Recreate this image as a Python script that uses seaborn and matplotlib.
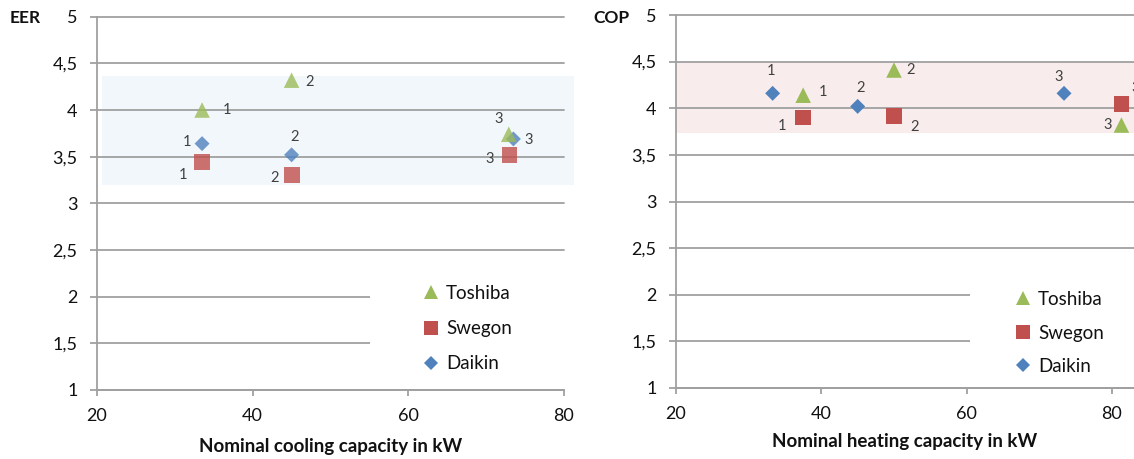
import matplotlib
matplotlib.use("Agg")
import matplotlib.pyplot as plt
from matplotlib.patches import Rectangle
from matplotlib.lines import Line2D
import seaborn as sns
import pandas as pd

sns.set_theme(style="white")
plt.rcParams['font.family'] = ['Lato', 'DejaVu Sans']

brands = ["Toshiba", "Swegon", "Daikin"]
unit_labels = ["1", "2", "3"]

# Cooling (EER)
cool_x_toshiba = [33.5, 45.0, 72.9]
cool_y_toshiba = [4.00, 4.32, 3.74]
cool_x_swegon = [33.5, 45.0, 73.0]
cool_y_swegon = [3.44, 3.30, 3.52]
cool_x_daikin = [33.5, 45.0, 73.5]
cool_y_daikin = [3.64, 3.52, 3.69]

# Heating (COP)
heat_x_toshiba = [37.5, 50.0, 81.3]
heat_y_toshiba = [4.14, 4.41, 3.82]
heat_x_swegon = [37.5, 50.0, 81.3]
heat_y_swegon = [3.90, 3.92, 4.05]
heat_x_daikin = [33.3, 45.0, 73.4]
heat_y_daikin = [4.16, 4.02, 4.16]

yticks = [1, 1.5, 2, 2.5, 3, 3.5, 4, 4.5, 5]
ytick_labels = ["1", "1,5", "2", "2,5", "3", "3,5", "4", "4,5", "5"]
xticks = [20, 40, 60, 80]
xtick_labels = ["20", "40", "60", "80"]

colors = {"Toshiba": "#9BBB59", "Swegon": "#C0504D", "Daikin": "#4F81BD"}
markers = {"Toshiba": "^", "Swegon": "s", "Daikin": "D"}
sizes = {"Toshiba": 125, "Swegon": 130, "Daikin": 58}

W, H = 1134, 459
fig = plt.figure(figsize=(W / 100, H / 100), dpi=100)

def px_axes(x0, x1, ytop, ybot):
    return fig.add_axes([x0 / W, 1 - ybot / H, (x1 - x0) / W, (ybot - ytop) / H])

ax1 = px_axes(97, 564, 16.7, 390)
ax2 = px_axes(676, 1134, 15, 388)

grid_c = "#A0A0A0"
text_c = "#404040"

def style_axis(ax, xmax):
    ax.set_xlim(20, xmax)
    ax.set_ylim(1, 5)
    ax.set_yticks(yticks)
    ax.set_yticklabels(ytick_labels)
    ax.set_xticks(xticks)
    ax.set_xticklabels(xtick_labels)
    ax.set_axisbelow(True)
    ax.yaxis.grid(True, color=grid_c, lw=1.3)
    ax.xaxis.grid(False)
    for s in ["top", "right"]:
        ax.spines[s].set_visible(False)
    for s in ["left", "bottom"]:
        ax.spines[s].set_color(grid_c)
        ax.spines[s].set_linewidth(1.3)
    ax.tick_params(axis="y", which="both", left=True, length=5, width=1.3,
                   color=grid_c, pad=9, labelsize=13, labelcolor="#111111")
    ax.tick_params(axis="x", which="both", bottom=True, length=4, width=1.3,
                   color=grid_c, pad=9, labelsize=13, labelcolor="#111111")
    ax.set_facecolor("none")
    for gl in ax.get_ygridlines():
        gl.set_clip_on(False)

style_axis(ax1, 80)
style_axis(ax2, 83.03)

# bands
ax1.add_patch(Rectangle((20.64, 3.196), 81.3 - 20.64, 4.365 - 3.196,
                        facecolor="#F2F7FB", edgecolor="none", zorder=0.3, clip_on=False))
ax2.add_patch(Rectangle((20.0, 3.735), 63.5, 4.5 - 3.735,
                        facecolor="#F8ECEC", edgecolor="none", zorder=0.3, clip_on=False))
# white legend boxes covering lower gridlines
ax1.add_patch(Rectangle((55.1, 1.12), 30, 1.17, facecolor="white",
                        edgecolor="none", zorder=0.7, clip_on=False))
ax2.add_patch(Rectangle((60.4, 1.12), 30, 1.17, facecolor="white",
                        edgecolor="none", zorder=0.7, clip_on=False))

cool = {"Toshiba": (cool_x_toshiba, cool_y_toshiba),
        "Swegon": (cool_x_swegon, cool_y_swegon),
        "Daikin": (cool_x_daikin, cool_y_daikin)}
heat = {"Toshiba": (heat_x_toshiba, heat_y_toshiba),
        "Swegon": (heat_x_swegon, heat_y_swegon),
        "Daikin": (heat_x_daikin, heat_y_daikin)}

cool_offsets = {"Toshiba": [(18, 0), (13, -1), (-7, 11)],
                "Swegon": [(-14, -9), (-12, -2), (-14, -3)],
                "Daikin": [(-11, 1), (2, 13), (11, -1)]}
heat_offsets = {"Toshiba": [(14, 2), (12, 0), (-10, 0)],
                "Swegon": [(-15, -6), (15, -8), (10, 11)],
                "Daikin": [(-1, 16), (2, 13), (-4, 12)]}

def draw(ax, data, offsets, alpha):
    for b in ["Daikin", "Swegon", "Toshiba"]:
        xs, ys = data[b]
        df = pd.DataFrame({"x": xs, "y": ys, "label": unit_labels})
        sns.scatterplot(data=df, x="x", y="y", ax=ax, marker=markers[b],
                        color=colors[b], s=sizes[b], alpha=alpha,
                        edgecolor="none", linewidth=0, legend=False,
                        zorder=3, clip_on=False)
        for (xv, yv, lab), off in zip(zip(xs, ys, unit_labels), offsets[b]):
            ax.annotate(lab, (xv, yv), xytext=off, textcoords="offset points",
                        ha="center", va="center", fontsize=10.5, color=text_c,
                        zorder=4, annotation_clip=False)

draw(ax1, cool, cool_offsets, 0.8)
draw(ax2, heat, heat_offsets, 1.0)

ax1.set_xlabel("Nominal cooling capacity in kW", fontsize=13.5, fontweight="bold",
               color="#111111", labelpad=10)
ax2.set_xlabel("Nominal heating capacity in kW", fontsize=13.5, fontweight="bold",
               color="#111111", labelpad=8)
ax1.set_ylabel("")
ax2.set_ylabel("")

fig.text(10 / W, 1 - 18 / H, "EER", fontsize=12.5, fontweight="bold",
         ha="left", va="center", color="#111111")
fig.text(593 / W, 1 - 18 / H, "COP", fontsize=12.5, fontweight="bold",
         ha="left", va="center", color="#111111")

def legend(ax, x, y, spacing):
    handles = [Line2D([], [], ls="none", marker=markers[b], color=colors[b],
                      markersize={"Toshiba": 10.5, "Swegon": 10, "Daikin": 7}[b],
                      markeredgewidth=0) for b in brands]
    leg = ax.legend(handles, brands, loc="upper left",
                    bbox_to_anchor=(x / W, 1 - y / H), bbox_transform=fig.transFigure,
                    frameon=False, fontsize=13.5, handlelength=0.8,
                    handletextpad=0.4, labelspacing=spacing, borderpad=0,
                    borderaxespad=0)
    leg.set_zorder(5)
    for t in leg.get_texts():
        t.set_color("#111111")

legend(ax1, 423.5, 285, 0.97)
legend(ax2, 1015.5, 291, 0.88)

fig.savefig("out.png", dpi=100, facecolor="white")
